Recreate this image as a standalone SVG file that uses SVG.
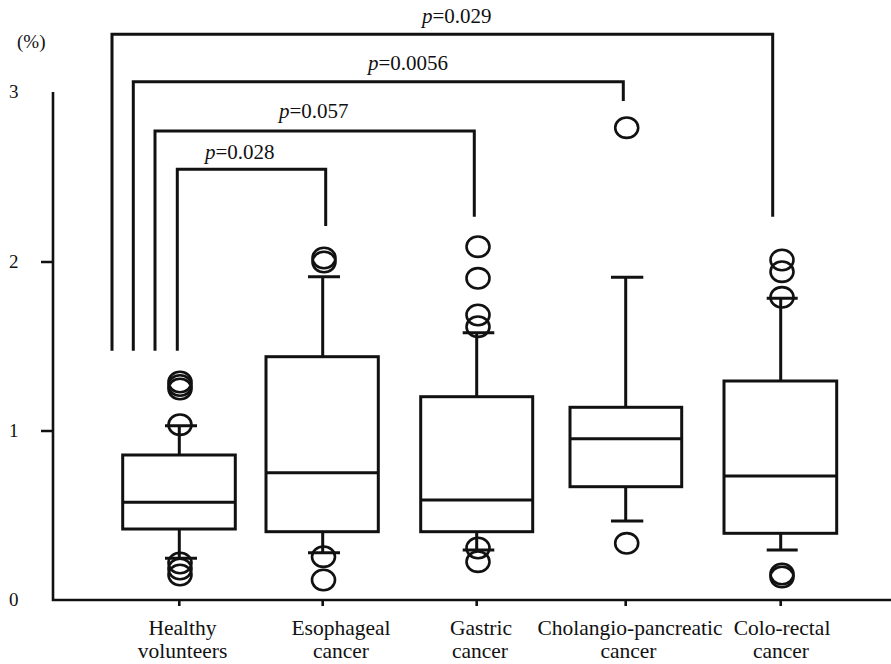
<svg xmlns="http://www.w3.org/2000/svg" width="891" height="664" viewBox="0 0 891 664">
<style>
.ln{fill:none;stroke:#111;stroke-width:3;stroke-linecap:butt}
.ax{fill:none;stroke:#111;stroke-width:2.6}
.bx{fill:none;stroke:#111;stroke-width:3}
.o{fill:none;stroke:#111;stroke-width:2.6}
.t{font-family:"Liberation Serif","Times New Roman",serif;fill:#111}
.cat{font-size:21.5px;text-anchor:middle}
.num{font-size:19px}
.p{font-size:21px}
</style>
<rect width="891" height="664" fill="#fff"/>
<g id="axes">
<path class="ax" d="M53,92 V600 H891"/>
<path class="ax" d="M41,262 H53 M41,431 H53"/>
<path class="ax" d="M179.3,600 V606 M322.7,600 V606 M476.7,600 V606 M625.7,600 V606 M780.7,600 V606"/>
<text class="t num" x="17" y="48">(%)</text>
<text class="t num" x="9" y="98">3</text>
<text class="t num" x="9" y="268">2</text>
<text class="t num" x="9" y="437">1</text>
<text class="t num" x="9" y="606">0</text>
</g>
<g id="connectors">
<path class="ln" d="M112,350.7 V34.3 H772.7 V216.7"/>
<path class="ln" d="M133.3,350.7 V81.7 H623.3 V101"/>
<path class="ln" d="M155,350.7 V131 H474.3 V216.7"/>
<path class="ln" d="M177.3,350.7 V169.3 H325.7 V226"/>
<text class="t p" x="422" y="23"><tspan font-style="italic">p</tspan>=0.029</text>
<text class="t p" x="368" y="70"><tspan font-style="italic">p</tspan>=0.0056</text>
<text class="t p" x="279" y="118"><tspan font-style="italic">p</tspan>=0.057</text>
<text class="t p" x="205" y="158.5"><tspan font-style="italic">p</tspan>=0.028</text>
</g>
<g id="healthy">
<rect class="bx" x="122.7" y="455" width="112.6" height="74"/>
<path class="bx" d="M122.7,502.3 H235.3 M179.3,455 V425.7 M165,425.7 H197 M179.3,529 V558.3 M165,558.3 H197"/>
<ellipse class="o" cx="180" cy="382" rx="11.5" ry="10.2"/>
<ellipse class="o" cx="180" cy="385.5" rx="11.5" ry="10.2"/>
<ellipse class="o" cx="180" cy="389" rx="11.5" ry="10.2"/>
<ellipse class="o" cx="180" cy="424.7" rx="11.5" ry="10.2"/>
<ellipse class="o" cx="180" cy="563" rx="11.5" ry="10.2"/>
<ellipse class="o" cx="180" cy="569" rx="11.5" ry="10.2"/>
<ellipse class="o" cx="180" cy="575" rx="11.5" ry="10.2"/>
<text class="t cat" x="182.5" y="634.5">Healthy</text>
<text class="t cat" x="182.5" y="658">volunteers</text>
</g>
<g id="esophageal">
<rect class="bx" x="266" y="356.7" width="112.3" height="175"/>
<path class="bx" d="M266,472.7 H378.3 M322.7,356.7 V276.7 M308,276.7 H340 M322.7,531.7 V552.7 M308,552.7 H340"/>
<ellipse class="o" cx="324" cy="258" rx="11.5" ry="10.2"/>
<ellipse class="o" cx="324" cy="262" rx="11.5" ry="10.2"/>
<ellipse class="o" cx="323.5" cy="556.7" rx="11.5" ry="10.2"/>
<ellipse class="o" cx="323.5" cy="580" rx="11.5" ry="10.2"/>
<text class="t cat" x="341" y="634.5">Esophageal</text>
<text class="t cat" x="341" y="658">cancer</text>
</g>
<g id="gastric">
<rect class="bx" x="420.7" y="396.7" width="112" height="135"/>
<path class="bx" d="M420.7,500 H532.7 M476.7,396.7 V332.7 M462.7,332.7 H494.3 M476.7,531.7 V550 M462.7,550 H494.3"/>
<ellipse class="o" cx="478" cy="246.7" rx="11.5" ry="10.2"/>
<ellipse class="o" cx="478" cy="278.3" rx="11.5" ry="10.2"/>
<ellipse class="o" cx="478" cy="315" rx="11.5" ry="10.2"/>
<ellipse class="o" cx="478" cy="326.7" rx="11.5" ry="10.2"/>
<ellipse class="o" cx="478" cy="548" rx="11.5" ry="10.2"/>
<ellipse class="o" cx="478" cy="561.7" rx="11.5" ry="10.2"/>
<text class="t cat" x="481" y="634.5">Gastric</text>
<text class="t cat" x="480" y="658">cancer</text>
</g>
<g id="cholangio">
<rect class="bx" x="570" y="407.3" width="111.7" height="79.4"/>
<path class="bx" d="M570,438.7 H681.7 M625.7,407.3 V277.3 M611,277.3 H643.3 M625.7,486.7 V521 M611,521 H643.3"/>
<ellipse class="o" cx="626.7" cy="127.7" rx="11.5" ry="10.2"/>
<ellipse class="o" cx="626.7" cy="543.3" rx="11.5" ry="10.2"/>
<text class="t cat" x="630" y="634.5">Cholangio-pancreatic</text>
<text class="t cat" x="628.5" y="658">cancer</text>
</g>
<g id="colorectal">
<rect class="bx" x="724" y="381" width="112.7" height="152.3"/>
<path class="bx" d="M724,476 H836.7 M780.7,381 V298.3 M766.7,298.3 H797.7 M780.7,533.3 V550 M766.7,550 H797.7"/>
<ellipse class="o" cx="782" cy="260" rx="11.5" ry="10.2"/>
<ellipse class="o" cx="782" cy="271.7" rx="11.5" ry="10.2"/>
<ellipse class="o" cx="782" cy="297.3" rx="11.5" ry="10.2"/>
<ellipse class="o" cx="782" cy="574" rx="11.5" ry="10.2"/>
<ellipse class="o" cx="782" cy="577" rx="11.5" ry="10.2"/>
<text class="t cat" x="782" y="634.5">Colo-rectal</text>
<text class="t cat" x="781" y="658">cancer</text>
</g>
</svg>
